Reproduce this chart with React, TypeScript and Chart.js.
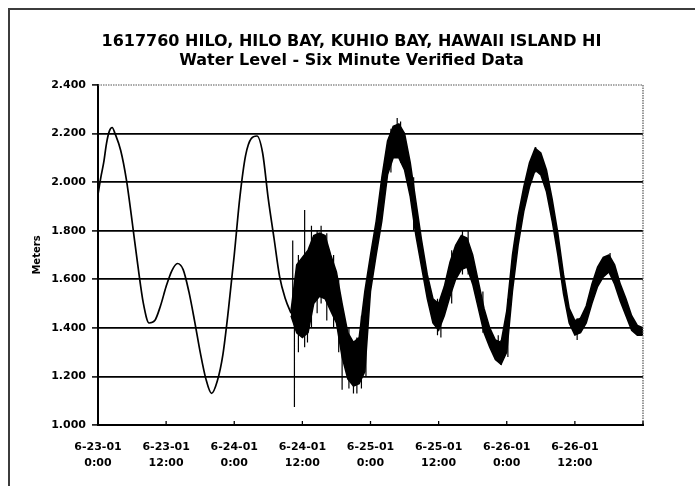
import { useEffect, useRef } from "react";
import { Chart, registerables } from "chart.js";

Chart.register(...registerables);

const titleLines = [
  "1617760 HILO, HILO BAY, KUHIO BAY, HAWAII ISLAND HI",
  "Water Level - Six Minute Verified Data",
];
const yAxisTitle = "Meters";
const xTickDates = ["6-23-01", "6-23-01", "6-24-01", "6-24-01", "6-25-01", "6-25-01", "6-26-01", "6-26-01"];
const xTickTimes = ["0:00", "12:00", "0:00", "12:00", "0:00", "12:00", "0:00", "12:00"];

// hours since 6-23-01 0:00 — calm first part (single line)
const calmHours = [0, 0.5, 1, 1.5, 2, 2.5, 3, 4, 5, 6, 7, 8, 9, 10, 11, 12, 13, 14, 15, 16, 17, 18, 19, 20, 21, 22, 23, 24, 25, 26, 27, 28, 29, 30, 31, 32, 33, 34];
const calmLevel = [1.95, 2.02, 2.08, 2.16, 2.21, 2.225, 2.2, 2.13, 2.01, 1.84, 1.66, 1.5, 1.42, 1.43, 1.49, 1.57, 1.635, 1.665, 1.64, 1.55, 1.43, 1.3, 1.19, 1.13, 1.18, 1.29, 1.48, 1.7, 1.94, 2.11, 2.18, 2.19, 2.12, 1.93, 1.77, 1.61, 1.52, 1.46];

// noisy part: hourly upper / lower envelope of the six-minute readings
const bandHours = [34, 35, 36, 37, 38, 39, 40, 41, 42, 43, 44, 45, 46, 47, 48, 49, 50, 51, 52, 53, 54, 55, 56, 57, 58, 59, 60, 61, 62, 63, 64, 65, 66, 67, 68, 69, 70, 71, 72, 73, 74, 75, 76, 77, 78, 79, 80, 81, 82, 83, 84, 85, 86, 87, 88, 89, 90, 91, 92, 93, 94, 95, 96];
const bandHigh = [1.47, 1.66, 1.69, 1.72, 1.78, 1.79, 1.78, 1.7, 1.63, 1.5, 1.38, 1.34, 1.36, 1.55, 1.7, 1.84, 2.02, 2.17, 2.23, 2.24, 2.2, 2.08, 1.92, 1.76, 1.62, 1.52, 1.5, 1.57, 1.67, 1.74, 1.78, 1.77, 1.7, 1.59, 1.48, 1.4, 1.35, 1.34, 1.47, 1.7, 1.86, 1.98, 2.08, 2.14, 2.12, 2.05, 1.93, 1.79, 1.62, 1.48, 1.43, 1.44, 1.49, 1.58, 1.65, 1.69, 1.7, 1.66, 1.58, 1.52, 1.45, 1.41, 1.4];
const bandLow = [1.45, 1.38, 1.36, 1.38, 1.5, 1.53, 1.52, 1.47, 1.42, 1.28, 1.19, 1.16, 1.17, 1.22, 1.55, 1.7, 1.84, 2.03, 2.1, 2.1, 2.05, 1.94, 1.78, 1.65, 1.52, 1.42, 1.39, 1.45, 1.53, 1.6, 1.64, 1.65, 1.58, 1.48, 1.38, 1.32, 1.27, 1.25, 1.3, 1.55, 1.74, 1.88, 1.98, 2.05, 2.03, 1.96, 1.84, 1.7, 1.54, 1.42, 1.37, 1.38, 1.42, 1.5, 1.57, 1.61, 1.63, 1.58, 1.51, 1.45, 1.39, 1.37, 1.37];

// single six-minute spikes
const spikeHours = [0.05, 34.3, 34.6, 35.3, 36.4, 36.9, 37.6, 38.6, 39.3, 40.3, 41.5, 42.4, 43.0, 44.2, 45.0, 45.6, 46.4, 47.2, 51.6, 52.7, 53.3, 55.6, 59.8, 60.4, 62.3, 64.2, 65.2, 67.8, 70.5, 71.0, 72.2, 77.1, 84.4, 90.2];
const spikeLow = [1.92, 1.45, 1.074, 1.3, 1.32, 1.34, 1.4, 1.46, 1.5, 1.43, 1.4, 1.3, 1.145, 1.15, 1.13, 1.13, 1.15, 1.2, 2.04, 2.1, 2.08, 1.8, 1.37, 1.36, 1.5, 1.62, 1.62, 1.38, 1.26, 1.247, 1.28, 2.04, 1.35, 1.62];
const spikeHigh = [1.97, 1.76, 1.5, 1.7, 1.885, 1.7, 1.82, 1.8, 1.82, 1.79, 1.7, 1.6, 1.48, 1.4, 1.33, 1.36, 1.45, 1.56, 2.22, 2.264, 2.25, 2.02, 1.52, 1.5, 1.72, 1.8, 1.8, 1.55, 1.37, 1.35, 1.52, 2.145, 1.44, 1.708];

const FONT = "DejaVu Sans";

const framePlugin = {
  id: "frame",
  afterDraw(chart: any) {
    const { ctx, chartArea, width, height } = chart;
    const { left, right, top, bottom } = chartArea;
    ctx.save();
    ctx.fillStyle = "#3c3c3c";
    ctx.fillRect(0, 0, width, 2);
    ctx.fillRect(0, 0, 2, height);
    ctx.strokeStyle = "#555";
    ctx.lineWidth = 1.2;
    ctx.setLineDash([1.5, 1]);
    ctx.beginPath();
    ctx.moveTo(left, top);
    ctx.lineTo(right, top);
    ctx.lineTo(right, bottom);
    ctx.stroke();
    ctx.setLineDash([]);
    ctx.strokeStyle = "#000";
    ctx.lineWidth = 1.3;
    const xs = chart.scales.x;
    xs.ticks.forEach((t: any) => {
      const px = xs.getPixelForValue(t.value);
      ctx.beginPath();
      ctx.moveTo(px, bottom);
      ctx.lineTo(px, bottom - 4);
      ctx.stroke();
    });
    ctx.restore();
  },
};

export default function App() {
  const ref = useRef<HTMLCanvasElement>(null);
  useEffect(() => {
    document.documentElement.style.overflow = "hidden";
    const calmData = calmHours.map((h, i) => ({ x: h, y: calmLevel[i] }));
    const highData = bandHours.map((h, i) => ({ x: h, y: bandHigh[i] }));
    const lowData = bandHours.map((h, i) => ({ x: h, y: bandLow[i] }));
    const spikeData: any[] = [];
    spikeHours.forEach((h, i) => {
      spikeData.push({ x: h, y: spikeLow[i] }, { x: h, y: spikeHigh[i] }, { x: h, y: null });
    });
    const chart = new Chart(ref.current!, {
      type: "line",
      data: {
        datasets: [
          { data: calmData, borderColor: "#000", borderWidth: 1.7, pointRadius: 0, cubicInterpolationMode: "monotone", fill: false },
          { data: highData, borderColor: "#000", borderWidth: 1.5, pointRadius: 0, fill: false },
          { data: lowData, borderColor: "#000", borderWidth: 1.5, pointRadius: 0, fill: "-1", backgroundColor: "#000" },
          { data: spikeData, borderColor: "#000", borderWidth: 1.2, pointRadius: 0, spanGaps: false, fill: false },
        ],
      },
      options: {
        animation: false,
        responsive: false,
        layout: { padding: { left: 0, right: 0, top: 0, bottom: 15 } },
        plugins: {
          legend: { display: false },
          tooltip: { enabled: false },
          title: {
            display: true,
            text: titleLines,
            color: "#000",
            font: { family: FONT, size: 16, weight: "bold", lineHeight: 19 / 16 },
            padding: { top: 24, bottom: 15 },
          },
        },
        scales: {
          x: {
            type: "linear",
            min: 0,
            max: 96,
            offset: false,
            afterFit: (s: any) => {
              s.height = 46;
            },
            ticks: {
              stepSize: 12,
              autoSkip: false,
              maxRotation: 0,
              color: "#000",
              padding: 14,
              font: { family: FONT, size: 11, weight: "bold", lineHeight: 16 / 11 },
              callback: (v: any) => {
                const i = Math.round(Number(v) / 12);
                return i < xTickDates.length ? [xTickDates[i], xTickTimes[i]] : "";
              },
            },
            grid: { display: true, drawOnChartArea: false, drawTicks: false },
            border: { color: "#000", width: 2 },
          },
          y: {
            min: 1,
            max: 2.4,
            afterFit: (s: any) => {
              s.width = 90;
            },
            ticks: {
              stepSize: 0.2,
              color: "#000",
              padding: 6,
              font: { family: FONT, size: 11, weight: "bold" },
              callback: (v: any) => Number(v).toFixed(3),
            },
            grid: {
              color: (c: any) => (c.tick && Math.abs(c.tick.value - 2.4) < 1e-6 ? "rgba(0,0,0,0)" : "#000"),
              lineWidth: 1.8,
              tickLength: 6,
              tickColor: "#000",
              tickWidth: 1.5,
            },
            border: { color: "#000", width: 2 },
            title: {
              display: true,
              text: yAxisTitle,
              color: "#000",
              font: { family: FONT, size: 10, weight: "bold" },
              padding: { top: 23, bottom: 0 },
            },
          },
          yRight: {
            position: "right",
            min: 1,
            max: 2.4,
            afterFit: (s: any) => {
              s.width = 52;
            },
            ticks: { display: false },
            grid: { display: false, drawOnChartArea: false },
            border: { display: false },
          },
        },
      } as any,
      plugins: [framePlugin],
    });
    return () => chart.destroy();
  }, []);
  return (
    <div style={{ position: "fixed", left: 8, top: 8, width: 687, height: 478 }}>
      <canvas ref={ref} width={687} height={478} style={{ display: "block" }} />
    </div>
  );
}
